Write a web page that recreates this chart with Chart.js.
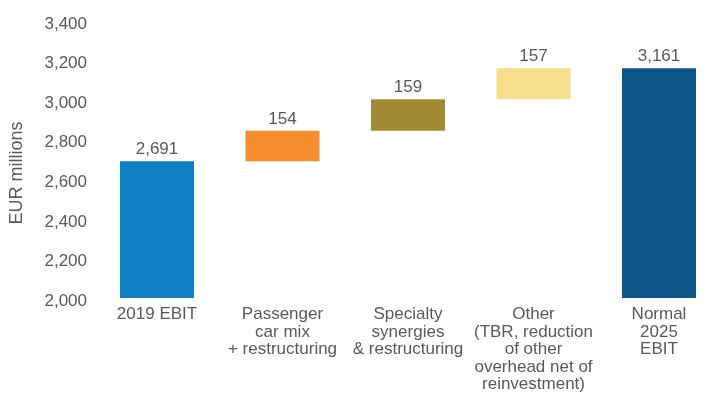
<!DOCTYPE html>
<html>
<head>
<meta charset="utf-8">
<script src="https://cdn.jsdelivr.net/npm/chart.js@4/dist/chart.umd.min.js"></script>
<style>
  html, body { margin: 0; padding: 0; background: #ffffff; }
  #wrap { width: 705px; height: 394px; }
</style>
</head>
<body>
<div id="wrap"><canvas id="chart" width="705" height="394"></canvas></div>
<script>
// EBIT bridge, EUR millions
const categories = [
  ['2019 EBIT'],
  ['Passenger', 'car mix', '+ restructuring'],
  ['Specialty', 'synergies', '& restructuring'],
  ['Other', '(TBR, reduction', 'of other', 'overhead net of', 'reinvestment)'],
  ['Normal', '2025', 'EBIT']
];
const startValue = 2691;           // 2019 EBIT
const steps = [154, 159, 157];     // contributions
const endValue = 3161;             // Normal 2025 EBIT
const axisBase = 2000;
const yTicks = [2000, 2200, 2400, 2600, 2800, 3000, 3200, 3400];
const barColors = ['#0E7FC0', '#F68D2E', '#A38B35', '#F5DE8C', '#0D5586'];

// floating bar ranges: totals start at the axis base, steps stack on the running total
const ranges = [[axisBase, startValue]];
const labelValues = [startValue];
let running = startValue;
steps.forEach(v => { ranges.push([running, running + v]); labelValues.push(v); running += v; });
ranges.push([axisBase, endValue]);
labelValues.push(endValue);

const textColor = '#595959';
const fontFamily = '"Liberation Sans", Arial, sans-serif';
const fmt = v => Number(v).toLocaleString('en-US');

const valueLabels = {
  id: 'valueLabels',
  afterDatasetsDraw(chart) {
    const ctx = chart.ctx;
    const meta = chart.getDatasetMeta(0);
    ctx.save();
    ctx.font = '17px ' + fontFamily;
    ctx.fillStyle = textColor;
    ctx.textAlign = 'center';
    ctx.textBaseline = 'alphabetic';
    meta.data.forEach((bar, i) => {
      const top = Math.min(bar.y, bar.base);
      ctx.fillText(fmt(labelValues[i]), bar.x, top - 7);
    });
    ctx.restore();
  }
};

const axisTitle = {
  id: 'axisTitle',
  afterDraw(chart) {
    const ctx = chart.ctx;
    ctx.save();
    ctx.font = '18px ' + fontFamily;
    ctx.fillStyle = textColor;
    ctx.textAlign = 'center';
    ctx.textBaseline = 'middle';
    ctx.translate(17, 173);
    ctx.rotate(-Math.PI / 2);
    ctx.fillText('EUR millions', 0, 0);
    ctx.restore();
  }
};

new Chart(document.getElementById('chart'), {
  type: 'bar',
  data: {
    labels: categories,
    datasets: [{
      data: ranges,
      backgroundColor: barColors,
      borderWidth: 0,
      barPercentage: 0.59,
      categoryPercentage: 1.0,
      clip: false
    }]
  },
  options: {
    responsive: false,
    animation: false,
    devicePixelRatio: 1,
    layout: { padding: { top: 21, right: 46, left: 0, bottom: 0 } },
    plugins: {
      legend: { display: false },
      tooltip: { enabled: false }
    },
    scales: {
      x: {
        offset: false,
        grid: { display: false, drawTicks: false, offset: false },
        border: { display: false },
        ticks: {
          color: textColor,
          padding: 8,
          maxRotation: 0,
          autoSkip: false,
          font: { family: fontFamily, size: 17, lineHeight: 1.03 }
        },
        afterFit(scale) { scale.height = 96; }
      },
      y: {
        min: axisBase,
        max: yTicks[yTicks.length - 1],
        afterBuildTicks(scale) { scale.ticks = yTicks.map(v => ({ value: v })); },
        grid: { display: false, drawTicks: false },
        border: { display: false },
        ticks: {
          color: textColor,
          padding: 70,
          labelOffset: 3,
          font: { family: fontFamily, size: 17 },
          callback: v => fmt(v)
        },
        afterFit(scale) {
          scale.width = 157;
          scale.paddingTop = 0;
          scale.paddingBottom = 0;
        }
      }
    }
  },
  plugins: [valueLabels, axisTitle]
});
</script>
</body>
</html>
